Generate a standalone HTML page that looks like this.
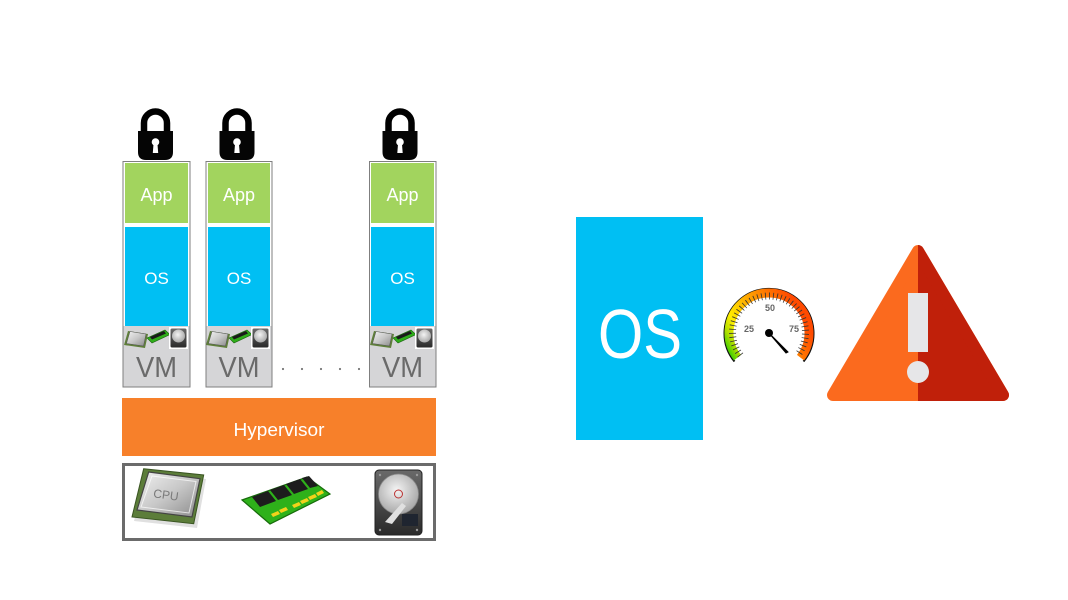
<!DOCTYPE html>
<html><head><meta charset="utf-8"><style>
html,body{margin:0;padding:0;background:#fff;}
svg{display:block;}
text{font-family:"Liberation Sans","DejaVu Sans",sans-serif;}
</style></head><body>
<svg width="1068" height="600" viewBox="0 0 1068 600" xmlns="http://www.w3.org/2000/svg">
<defs>
  <linearGradient id="silver" x1="0" y1="0" x2="1" y2="1">
    <stop offset="0" stop-color="#f2f2f2"/><stop offset="0.5" stop-color="#c8c8c8"/><stop offset="1" stop-color="#8a8a8a"/>
  </linearGradient>
  <linearGradient id="hdd" x1="0" y1="0" x2="0" y2="1">
    <stop offset="0" stop-color="#6a6a6a"/><stop offset="1" stop-color="#2a2a2a"/>
  </linearGradient>
  <radialGradient id="plat" cx="0.45" cy="0.4" r="0.6">
    <stop offset="0" stop-color="#f4f4f4"/><stop offset="1" stop-color="#a8a8a8"/>
  </radialGradient>
  <linearGradient id="gauge" x1="0" y1="1" x2="1" y2="0.55">
    <stop offset="0" stop-color="#22cc00"/>
    <stop offset="0.12" stop-color="#aadd00"/>
    <stop offset="0.25" stop-color="#ffee00"/>
    <stop offset="0.5" stop-color="#ffb000"/>
    <stop offset="0.75" stop-color="#ff7a00"/>
    <stop offset="1" stop-color="#ff4a00"/>
  </linearGradient>
  <clipPath id="rightHalf"><rect x="918" y="230" width="110" height="190"/></clipPath>

  <g id="lock">
    <path d="M-11.5 22 V11 A11.5 11.5 0 0 1 11.5 11 V22" fill="none" stroke="#000" stroke-width="6.5"/>
    <path d="M-17.5 19 H17.5 V40 Q17.5 48 9.5 48 H-9.5 Q-17.5 48 -17.5 40 Z" fill="#050505"/>
    <circle cx="0" cy="30" r="3.8" fill="#fff"/>
    <path d="M-1.9 31 L1.9 31 L2.7 41 L-2.7 41 Z" fill="#fff"/>
  </g>

  <g id="minihw">
    <!-- mini cpu -->
    <polygon points="128,331 148,334 145,348 124,345" fill="#5f7f3a"/>
    <polygon points="130,331.5 146,334 143.5,346 126.5,343.5" fill="url(#silver)" stroke="#555" stroke-width="0.5"/>
    <!-- mini ram -->
    <polygon points="147,338 165,330 170,334.5 152,343" fill="#2fae1a" stroke="#1a6010" stroke-width="0.6"/>
    <polygon points="150,337 164,331 166,333.5 152,339.5" fill="#1a1a1a"/>
    <!-- mini hdd -->
    <rect x="169" y="327" width="19" height="22" fill="#fff"/>
    <rect x="170.5" y="328.5" width="16" height="19" rx="1.5" fill="url(#hdd)"/>
    <circle cx="178.5" cy="336" r="6.5" fill="url(#plat)"/>
  </g>
</defs>

<!-- Locks -->
<use href="#lock" x="155.5" y="112"/>
<use href="#lock" x="237" y="112"/>
<use href="#lock" x="400" y="112"/>

<!-- VM 1 -->
<rect x="123" y="161.5" width="67" height="225.5" fill="#fff" stroke="#7f7f7f" stroke-width="1"/>
<rect x="123.5" y="326" width="66" height="60.5" fill="#d5d5d7"/>
<rect x="125" y="163" width="63" height="60" fill="#a2d45e"/>
<rect x="125" y="227" width="63" height="99" fill="#00bff3"/>
<text x="156.5" y="201" font-size="18" fill="#fff" text-anchor="middle">App</text>
<text x="156.5" y="284" font-size="17" fill="#fff" text-anchor="middle">OS</text>
<use href="#minihw" x="0" y="0"/>
<text x="156.5" y="377" font-size="29" fill="#6a6a6a" text-anchor="middle" textLength="41" lengthAdjust="spacingAndGlyphs">VM</text>

<!-- VM 2 -->
<rect x="206" y="161.5" width="66" height="225.5" fill="#fff" stroke="#7f7f7f" stroke-width="1"/>
<rect x="206.5" y="326" width="65" height="60.5" fill="#d5d5d7"/>
<rect x="208" y="163" width="62" height="60" fill="#a2d45e"/>
<rect x="208" y="227" width="62" height="99" fill="#00bff3"/>
<text x="239" y="201" font-size="18" fill="#fff" text-anchor="middle">App</text>
<text x="239" y="284" font-size="17" fill="#fff" text-anchor="middle">OS</text>
<use href="#minihw" x="82" y="0"/>
<text x="239" y="377" font-size="29" fill="#6a6a6a" text-anchor="middle" textLength="41" lengthAdjust="spacingAndGlyphs">VM</text>

<!-- VM 3 -->
<rect x="369.5" y="161.5" width="66.5" height="225.5" fill="#fff" stroke="#7f7f7f" stroke-width="1"/>
<rect x="370" y="326" width="65.5" height="60.5" fill="#d5d5d7"/>
<rect x="371" y="163" width="63" height="60" fill="#a2d45e"/>
<rect x="371" y="227" width="63" height="99" fill="#00bff3"/>
<text x="402.5" y="201" font-size="18" fill="#fff" text-anchor="middle">App</text>
<text x="402.5" y="284" font-size="17" fill="#fff" text-anchor="middle">OS</text>
<use href="#minihw" x="246" y="0"/>
<text x="402.5" y="377" font-size="29" fill="#6a6a6a" text-anchor="middle" textLength="41" lengthAdjust="spacingAndGlyphs">VM</text>

<!-- dots -->
<g fill="#777">
  <circle cx="283" cy="369" r="1.1"/><circle cx="302" cy="369" r="1.1"/><circle cx="321" cy="369" r="1.1"/><circle cx="340" cy="369" r="1.1"/><circle cx="359" cy="369" r="1.1"/>
</g>

<!-- Hypervisor -->
<rect x="122" y="398" width="314" height="58" fill="#f7802a"/>
<text x="279" y="436" font-size="18.5" fill="#fff" text-anchor="middle" textLength="91" lengthAdjust="spacingAndGlyphs">Hypervisor</text>

<!-- Hardware box -->
<rect x="123.5" y="464.5" width="311" height="75" fill="#fff" stroke="#6b6b6b" stroke-width="3"/>

<!-- CPU -->
<polygon points="146,472 206,479 197,528 134,521" fill="#000" opacity="0.12"/>
<polygon points="143.7,468.7 203.7,475 193.7,523.7 132,517" fill="#5c7d3a" stroke="#3a5522" stroke-width="1"/>
<polygon points="148.7,472 200,478.7 192,517 137,510" fill="url(#silver)" stroke="#444" stroke-width="1.2"/>
<polygon points="152,476 196,481.5 189,513 141,507" fill="none" stroke="#fff" stroke-width="1" opacity="0.7"/>
<text x="166" y="499" font-size="12" fill="#7a7a7a" text-anchor="middle" transform="rotate(8 166 495)">CPU</text>

<!-- RAM -->
<polygon points="242,500 307,477 330,494 270,524" fill="#2eb11a" stroke="#176b0b" stroke-width="1.2"/>
<polygon points="252,497 268,491 276,501 260,507" fill="#1d1d1d"/>
<polygon points="270,490 284,485 292,495 278,500" fill="#1d1d1d"/>
<polygon points="286,484 300,479 308,489 294,494" fill="#1d1d1d"/>
<polygon points="302,478 309,476 318,486 310,488" fill="#1d1d1d"/>
<g fill="#f2d21a">
  <polygon points="271,514 278,511 280,514 273,517"/>
  <polygon points="279,510 286,507 288,510 281,513"/>
  <polygon points="292,505 299,502 301,505 294,508"/>
  <polygon points="300,501 307,498 309,501 302,504"/>
  <polygon points="308,497 315,494 317,497 310,500"/>
  <polygon points="316,493 322,490 324,493 318,496"/>
</g>

<!-- HDD -->
<rect x="375" y="470" width="47" height="65" rx="4" fill="url(#hdd)" stroke="#222" stroke-width="1"/>
<circle cx="398.5" cy="494" r="20" fill="url(#plat)" stroke="#888" stroke-width="0.8"/>
<circle cx="398.5" cy="494" r="4" fill="none" stroke="#b33" stroke-width="1"/>
<path d="M385 522 L402 503 L406 506 L392 524 Z" fill="#e0e0e0"/>
<rect x="402" y="514" width="16" height="12" fill="#1f2530"/>
<circle cx="380" cy="475" r="1.2" fill="#999"/><circle cx="417" cy="475" r="1.2" fill="#999"/>
<circle cx="380" cy="530" r="1.2" fill="#999"/><circle cx="417" cy="530" r="1.2" fill="#999"/>

<!-- Big OS -->
<rect x="576" y="217" width="127" height="223" fill="#00bff3"/>
<text x="640" y="358" font-size="70" fill="#fff" text-anchor="middle" textLength="84" lengthAdjust="spacingAndGlyphs">OS</text>

<!-- Gauge -->
<path d="M734.5 361.5 A44.5 44.5 0 1 1 803.5 361.5" fill="none" stroke="#111" stroke-width="2"/>
<path d="M737.5 357.6 A40 40 0 1 1 800.5 357.6" fill="none" stroke="url(#gauge)" stroke-width="9"/>
<path d="M740.5 355.3 A36.5 36.5 0 1 1 797.5 355.3" fill="none" stroke="#333" stroke-width="7" stroke-dasharray="0.8 3.1"/>
<text x="749" y="332" font-size="9" fill="#666" text-anchor="middle" font-weight="bold">25</text>
<text x="770" y="311" font-size="9" fill="#666" text-anchor="middle" font-weight="bold">50</text>
<text x="794" y="332" font-size="9" fill="#666" text-anchor="middle" font-weight="bold">75</text>
<path d="M768 332 L788 352 L786 353 Z" fill="#000" stroke="#000" stroke-width="1"/>
<circle cx="769" cy="333" r="4" fill="#000"/>

<!-- Warning -->
<polygon points="918,251 1003,395 833,395" fill="#fb6a1e" stroke="#fb6a1e" stroke-width="12" stroke-linejoin="round"/>
<g clip-path="url(#rightHalf)">
  <polygon points="918,251 1003,395 833,395" fill="#c0200a" stroke="#c0200a" stroke-width="12" stroke-linejoin="round"/>
</g>
<rect x="908" y="293" width="20" height="59" fill="#e6e6e8"/>
<circle cx="918" cy="372" r="11" fill="#e6e6e8"/>
</svg>
</body></html>
